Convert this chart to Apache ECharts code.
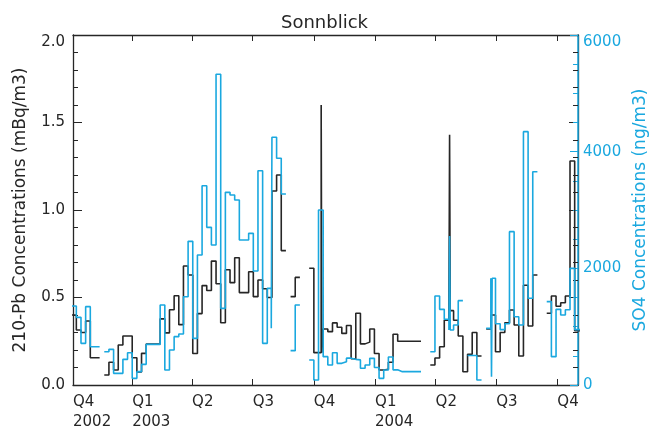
<!DOCTYPE html>
<html>
<head>
<meta charset="utf-8">
<script src="https://cdn.jsdelivr.net/npm/echarts@6/dist/echarts.min.js"></script>
<style>
  html, body { margin: 0; padding: 0; background: #ffffff; }
  #chart { width: 649px; height: 432px; }
</style>
</head>
<body>
<div id="chart"></div>
<script>
// Weekly filter samples, first week starting 2002-10-02; null = no sample
const weekStart = '2002-10-02';

// 210-Pb activity concentration (mBq/m3), one value per week
const pb210 = [
  0.40, 0.314, 0.30, 0.366, 0.156, 0.156, null, 0.057, 0.13, 0.086,
  0.229, 0.28, 0.28, 0.156, 0.074, 0.181, 0.234, 0.234, 0.234, 0.378,
  0.298, 0.43, 0.51, 0.345, 0.68, 0.629, 0.18, 0.408, 0.568, 0.54,
  0.708, 0.579, 0.356, 0.659, 0.585, 0.727, 0.528, 0.528, 0.647, 0.505,
  0.60, 0.55, 0.50, 1.109, 1.20, 0.768, null, 0.505, 0.615, null,
  null, 0.667, 0.185, 0.185, 0.32, 0.305, 0.355, 0.33, 0.295, 0.34,
  0.15, 0.41, 0.235, 0.245, 0.32, 0.18, 0.086, 0.09, 0.13, 0.29,
  0.25, 0.25, 0.25, 0.25, 0.25, null, null, 0.114, 0.154, 0.219,
  0.371, 0.425, 0.37, 0.28, 0.076, 0.176, 0.30, 0.166, null, 0.32,
  0.40, 0.19, 0.30, 0.356, 0.429, 0.343, 0.166, 0.57, 0.337, 0.629,
  null, null, 0.41, 0.509, 0.45, 0.47, 0.509, 1.28, 0.31, 0.31
];

// SO4 concentration (ng/m3), one value per week
const so4 = [
  1354, 1160, 714, 1343, 657, 657, null, 571, 611, 200,
  200, 440, 554, 114, 229, 354, 697, 697, 697, 1371,
  257, 600, 829, 874, 1514, 2463, 800, 2229, 3417, 2703,
  2400, 5326, 1314, 3303, 3257, 3171, 2486, 2486, 2600, 1954,
  3674, 714, 1657, 4246, 3886, 3274, null, 589, 1371, null,
  null, 429, 86, 3000, 486, 343, 554, 371, 400, 460,
  440, 430, 286, 343, 457, 300, 114, 257, 480, 260,
  229, 229, 229, 229, 229, null, null, 571, 1526, 1297,
  1126, 943, 1029, 1446, null, 505, 505, 86, null, 971,
  1829, 1050, 950, 1050, 2629, 1171, 1029, 4343, 1486, 3657,
  null, null, 1429, 486, 1297, 1200, 1290, 2000, 950, 950
];

// One-day samples taken inside a weekly period
const pb210Short = [['2003-10-12', 1.60], ['2004-04-22', 1.43]];
const so4Short = [['2003-07-29', 971], ['2004-04-22', 2554], ['2004-06-24', 143]];

// Quarter ticks along the time axis
const quarterStarts = ['2002-10-01', '2003-01-01', '2003-04-01', '2003-07-01', '2003-10-01',
                       '2004-01-01', '2004-04-01', '2004-07-01', '2004-10-01'];
const quarterLabels = ['Q4\n2002', 'Q1\n2003', 'Q2', 'Q3', 'Q4', 'Q1\n2004', 'Q2', 'Q3', 'Q4'];

const DAY = 86400000;
const utc = d => Date.parse(d + 'T00:00:00Z');
const xMin = utc('2002-10-04');
const xMax = utc('2004-11-01');

// Turn weekly values plus short samples into a held-value (step) polyline
function stepPoints(weekly, shortSamples) {
  const t0 = utc(weekStart);
  const samples = weekly.map((v, i) => ({ s: t0 + i * 7 * DAY, e: t0 + (i + 1) * 7 * DAY, v: v }));
  shortSamples.forEach(([d, v]) => {
    const s = utc(d), e = s + DAY;
    const idx = samples.findIndex(p => p.s <= s && s < p.e);
    const host = samples[idx];
    const parts = [];
    if (s > host.s) parts.push({ s: host.s, e: s, v: host.v });
    parts.push({ s: s, e: e, v: v });
    if (e < host.e) parts.push({ s: e, e: host.e, v: host.v });
    samples.splice(idx, 1, ...parts);
  });
  const pts = [];
  samples.forEach((p, i) => {
    if (p.v == null) { pts.push([p.s, '-']); return; }
    pts.push([p.s, p.v]);
    const next = samples[i + 1];
    if (!next || next.v == null) pts.push([p.e, p.v]);
  });
  return pts;
}

const FONT = 'DejaVu Sans';
const INK = '#262626';
const CYAN = '#1aa8df';

const tickVals = quarterStarts.map(d => Math.max(utc(d), xMin));
function quarterText(v) {
  const i = tickVals.findIndex(t => Math.abs(t - v) < DAY / 2);
  return i < 0 ? '' : quarterLabels[i];
}

const chart = echarts.init(document.getElementById('chart'), null, { renderer: 'canvas' });

const frameX = pos => ({
  type: 'value', min: xMin, max: xMax, position: pos,
  axisLine: { show: true, onZero: false, lineStyle: { color: INK, width: 1.3 } },
  axisTick: { show: true, inside: true, length: 6, customValues: tickVals, lineStyle: { color: INK, width: 1 } },
  axisLabel: pos === 'bottom'
    ? { show: true, customValues: tickVals, formatter: quarterText, align: 'left', margin: 7,
        fontFamily: FONT, fontSize: 15, lineHeight: 20, color: INK }
    : { show: false },
  splitLine: { show: false }
});

chart.setOption({
  animation: false,
  backgroundColor: '#ffffff',
  title: {
    text: 'Sonnblick', left: 'center', top: 9,
    textStyle: { fontFamily: FONT, fontSize: 18, fontWeight: 'normal', color: INK }
  },
  grid: { left: 73, right: 71, top: 35, bottom: 47, containLabel: false, outerBoundsMode: 'none' },
  xAxis: [frameX('bottom'), frameX('top')],
  yAxis: [
    {
      type: 'value', min: 0, max: 2, interval: 0.5, position: 'left',
      name: '210-Pb Concentrations (mBq/m3)', nameLocation: 'middle', nameGap: 44,
      nameTextStyle: { fontFamily: FONT, fontSize: 17, color: INK },
      axisLine: { show: true, lineStyle: { color: INK, width: 1.3 } },
      axisTick: { show: true, inside: true, length: 9, lineStyle: { color: INK } },
      minorTick: { show: true, splitNumber: 5, length: 5, lineStyle: { color: INK } },
      axisLabel: { formatter: v => v.toFixed(1), margin: 8, fontFamily: FONT, fontSize: 15, color: INK,
                   verticalAlignMaxLabel: 'top' },
      splitLine: { show: false }
    },
    {
      type: 'value', min: 0, max: 2, interval: 0.5, position: 'right',
      axisLine: { show: true, lineStyle: { color: INK, width: 1.3 } },
      axisTick: { show: true, inside: true, length: 9, lineStyle: { color: INK } },
      minorTick: { show: true, splitNumber: 5, length: 5, lineStyle: { color: INK } },
      axisLabel: { show: false },
      splitLine: { show: false }
    },
    {
      type: 'value', min: 0, max: 6000, interval: 2000, position: 'right',
      name: 'SO4 Concentrations (ng/m3)', nameLocation: 'middle', nameGap: 50,
      nameTextStyle: { fontFamily: FONT, fontSize: 17, color: CYAN },
      axisLine: { show: true, lineStyle: { color: CYAN, width: 1.5 } },
      axisTick: { show: true, inside: true, length: 8, lineStyle: { color: CYAN } },
      minorTick: { show: true, splitNumber: 4, length: 5, lineStyle: { color: CYAN } },
      axisLabel: { formatter: v => String(v), margin: 5, fontFamily: FONT, fontSize: 15, color: CYAN,
                   verticalAlignMaxLabel: 'top' },
      splitLine: { show: false }
    }
  ],
  series: [
    {
      name: '210-Pb', type: 'line', xAxisIndex: 0, yAxisIndex: 0, step: 'end',
      data: stepPoints(pb210, pb210Short), showSymbol: false, connectNulls: false,
      lineStyle: { color: INK, width: 1.6 }, itemStyle: { color: INK }
    },
    {
      name: 'SO4', type: 'line', xAxisIndex: 0, yAxisIndex: 2, step: 'end',
      data: stepPoints(so4, so4Short), showSymbol: false, connectNulls: false,
      lineStyle: { color: CYAN, width: 1.6 }, itemStyle: { color: CYAN }
    }
  ]
});
</script>
</body>
</html>
